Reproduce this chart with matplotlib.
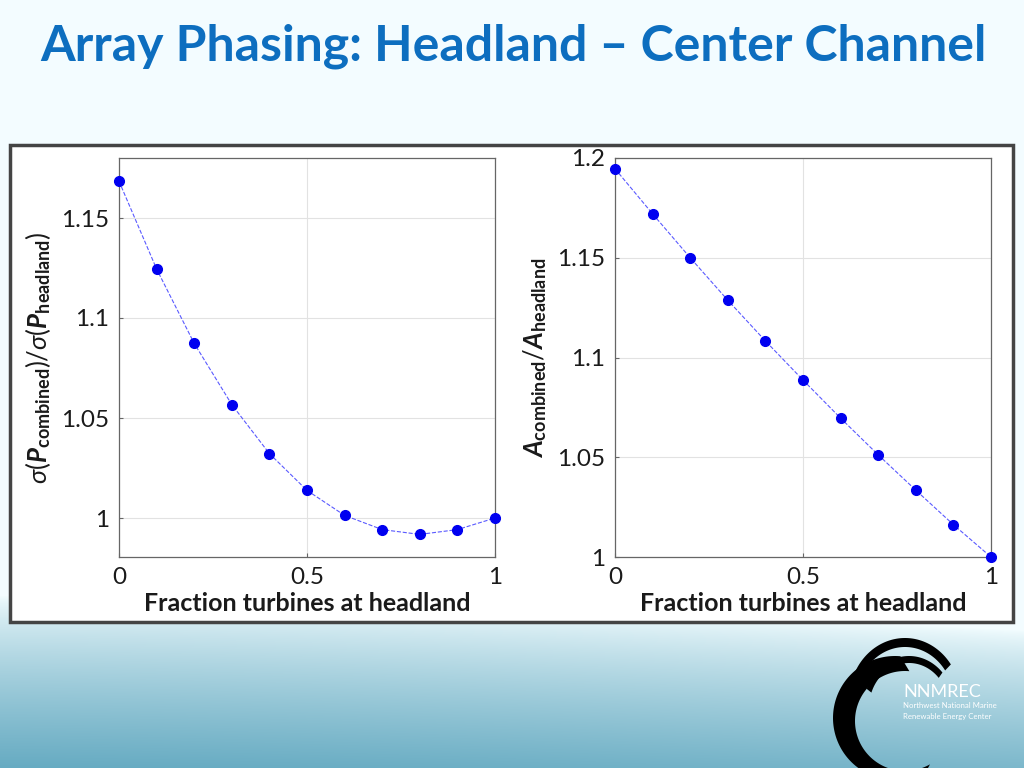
import numpy as np
import matplotlib
matplotlib.use("Agg")
import matplotlib.pyplot as plt
from matplotlib.patches import Rectangle, Polygon

plt.rcParams['font.family'] = ['Lato', 'DejaVu Sans']
plt.rcParams['mathtext.fontset'] = 'custom'
plt.rcParams['mathtext.rm'] = 'Lato'
plt.rcParams['mathtext.it'] = 'Lato:italic'
plt.rcParams['mathtext.bf'] = 'Lato:bold'
plt.rcParams['mathtext.bfit'] = 'Lato:bold:italic'

# data
fraction = [0.0, 0.1, 0.2, 0.3, 0.4, 0.5, 0.6, 0.7, 0.8, 0.9, 1.0]
sigma_ratio = [1.1684, 1.1245, 1.0873, 1.0567, 1.0322, 1.0138, 1.0013,
               0.9942, 0.9918, 0.9942, 1.0]
amp_ratio = [1.1946, 1.1720, 1.1500, 1.1287, 1.1083, 1.0887, 1.0696,
             1.0512, 1.0335, 1.0162, 1.0]

x_ticks = [0, 0.5, 1]
x_ticklabels = ['0', '0.5', '1']
left_yticks = [1, 1.05, 1.1, 1.15]
left_yticklabels = ['1', '1.05', '1.1', '1.15']
right_yticks = [1, 1.05, 1.1, 1.15, 1.2]
right_yticklabels = ['1', '1.05', '1.1', '1.15', '1.2']

title = 'Array Phasing: Headland \u2013 Center Channel'
xlabel = 'Fraction turbines at headland'
left_ylabel = r'$\sigma(\mathbfit{P}_{\mathbf{combined}})/\sigma(\mathbfit{P}_{\mathbf{headland}})$'
right_ylabel = r'$\mathbfit{A}_{\mathbf{combined}}/\mathbfit{A}_{\mathbf{headland}}$'

W, H = 1024, 768
fig = plt.figure(figsize=(10.24, 7.68), dpi=100)

# slide background in pixel coordinates
bg = fig.add_axes([0, 0, 1, 1], zorder=0)
bg.set_xlim(0, W)
bg.set_ylim(H, 0)
bg.axis('off')
yy, xx = np.mgrid[0:H, 0:W]
edge = 595 + 35 * (xx / W) ** 1.5
t = np.clip((yy - edge) / (H - 595), 0, 1) ** 0.75
top = np.array([0.953, 0.992, 1.0])
bottom = np.array([0.40, 0.67, 0.76])
img = top[None, None, :] * (1 - t[..., None]) + bottom[None, None, :] * t[..., None]
bg.imshow(img, extent=(0, W, H, 0), aspect='auto', zorder=0)

bg.text(40, 46, title, fontsize=36, fontweight='bold', color='#0d6ebf',
        ha='left', va='center', zorder=2)

bg.add_patch(Rectangle((10, 145), 1003, 477, facecolor='white',
                       edgecolor='#444444', linewidth=2.5, zorder=1))


def band(cx, cy, rx, ry, t_out, a0, a1, dx=0, dy=0):
    # black crescent-like band between two elliptical arcs
    a = np.radians(np.linspace(a0, a1, 100))
    o = np.column_stack([cx + rx * np.cos(a), cy - ry * np.sin(a)])
    b = a[::-1]
    i = np.column_stack([cx + dx + (rx - t_out) * np.cos(b),
                         cy + dy - (ry - t_out) * np.sin(b)])
    bg.add_patch(Polygon(np.vstack([o, i]), closed=True, facecolor='black',
                         edgecolor='none', zorder=2))


# logo
band(895, 718, 62, 62, 12, 85, 300, dx=10, dy=3)
band(905, 700, 56, 62, 7, 35, 165, dy=2)
band(909, 706, 45, 50, 5, 42, 160, dy=2)
bg.text(903, 692, 'NNMREC', fontsize=13, color='white', ha='left',
        va='center', zorder=3)
bg.text(903, 706, 'Northwest National Marine', fontsize=5.6, color='white',
        ha='left', va='center', zorder=3)
bg.text(903, 716, 'Renewable Energy Center', fontsize=5.6, color='white',
        ha='left', va='center', zorder=3)


def style(ax, yticks, yticklabels, ylim):
    ax.set_xlim(0, 1)
    ax.set_ylim(*ylim)
    ax.set_xticks(x_ticks)
    ax.set_xticklabels(x_ticklabels)
    ax.set_yticks(yticks)
    ax.set_yticklabels(yticklabels)
    ax.grid(True, color='#e2e2e2', linewidth=0.8)
    ax.set_axisbelow(True)
    for s in ax.spines.values():
        s.set_color('#666666')
        s.set_linewidth(0.9)
    ax.tick_params(direction='in', length=3, color='#666666',
                   labelsize=17.5, labelcolor='#1a1a1a', pad=7)
    ax.set_xlabel(xlabel, fontsize=18, fontweight='bold', color='#1a1a1a',
                  labelpad=3)


def draw(ax, y):
    ax.plot(fraction, y, linestyle='--', linewidth=0.8, color='#5a5aff', zorder=3)
    ax.plot(fraction, y, linestyle='none', marker='o', markersize=7,
            color='#0000f0', zorder=4, clip_on=False)


ax1 = fig.add_axes([119 / W, 1 - 557 / H, 376 / W, 399 / H], zorder=3)
draw(ax1, sigma_ratio)
style(ax1, left_yticks, left_yticklabels, (0.9805, 1.18))
ax1.set_ylabel(left_ylabel, fontsize=18.5, color='#1a1a1a', labelpad=6)

ax2 = fig.add_axes([615 / W, 1 - 557 / H, 376 / W, 399 / H], zorder=3)
draw(ax2, amp_ratio)
style(ax2, right_yticks, right_yticklabels, (1.0, 1.2))
ax2.set_ylabel(right_ylabel, fontsize=18.5, color='#1a1a1a', labelpad=6)

fig.savefig('out.png', dpi=100)
